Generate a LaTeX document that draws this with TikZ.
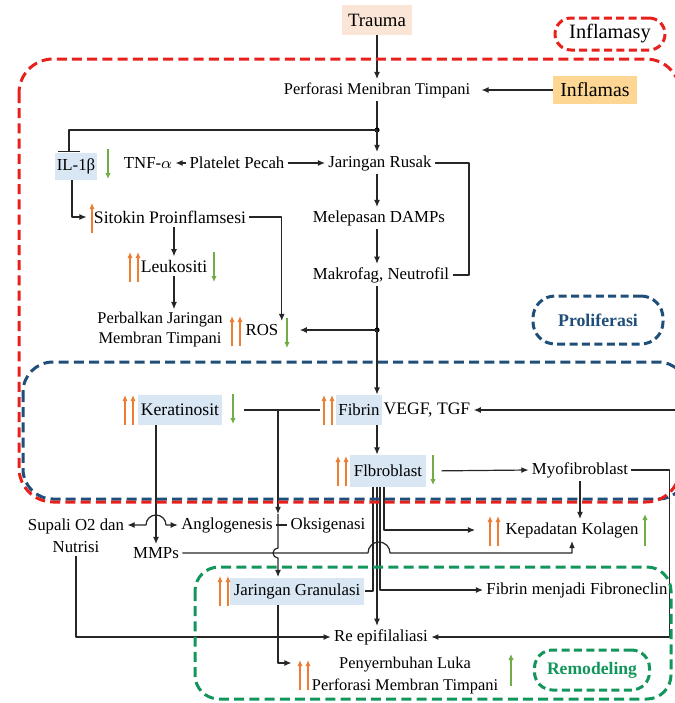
\documentclass[tikz,border=0pt]{standalone}
\usepackage{fontspec}
\setmainfont{Liberation Serif}
\usepackage{tikz}
\usetikzlibrary{arrows.meta}
\definecolor{inflred}{RGB}{232,32,28}
\definecolor{prolblue}{RGB}{31,78,121}
\definecolor{remgreen}{RGB}{18,150,92}
\definecolor{cellblue}{RGB}{217,231,245}
\definecolor{traumafill}{RGB}{251,229,214}
\definecolor{inflfill}{RGB}{252,214,146}
\definecolor{uporange}{RGB}{237,125,49}
\definecolor{downgreen}{RGB}{112,173,71}

\begin{document}
\begin{tikzpicture}[>={Latex[length=3.6pt,width=3pt]},line join=bevel,x=0.5pt,y=-0.5pt,
    txt/.style={align=center,inner sep=1.5pt,font=\fontsize{8.4}{10}\selectfont},
    big/.style={txt,font=\fontsize{8.8}{10}\selectfont},
    small/.style={font=\fontsize{8.2}{10}\selectfont},
    cell/.style={rectangle,fill=cellblue,inner xsep=1.5pt,minimum height=15pt},
    link/.style={color=black!85,line width=0.6pt},
    zone/.style={line width=1.5pt,dash pattern=on 5pt off 2.6pt},
    tag/.style={rectangle,draw,line width=1.5pt,dash pattern=on 4pt off 2.2pt,inner sep=2pt},
    oup/.pic={\draw[uporange,line width=0.8pt,-{Latex[length=3pt,width=2.6pt]}] (0,-7.5pt) -- (0,7.5pt);},
    upup/.pic={\draw[uporange,line width=0.8pt,-{Latex[length=3pt,width=2.6pt]}] (-2pt,-7.5pt) -- (-2pt,7.5pt);
               \draw[uporange,line width=0.8pt,-{Latex[length=3pt,width=2.6pt]}] (2pt,-7.5pt) -- (2pt,7.5pt);},
    gdown/.pic={\draw[downgreen,line width=0.8pt,-{Latex[length=3pt,width=2.8pt]}] (0,7.5pt) -- (0,-7.5pt);},
    gup/.pic={\draw[downgreen,line width=0.8pt,-{Latex[length=3pt,width=2.8pt]}] (0,-8pt) -- (0,8pt);}]
            \useasboundingbox (0,0) rectangle (675,703);
            %
            \node (trauma) at (377,20) [rectangle,fill=traumafill,inner xsep=3pt,minimum height=15pt,font=\fontsize{9.4}{11}\selectfont] {Trauma};
            \node (inflamasy) at (610,34) [tag,draw=inflred,rounded corners=8pt,minimum width=55pt,minimum height=16pt,font=\fontsize{10.2}{12}\selectfont] {Inflamasy};
            \node (perforasi) at (377,90) [txt,small] {Perforasi Menibran Timpani};
            \node (inflamas) at (595,90) [rectangle,fill=inflfill,inner xsep=3.5pt,minimum height=14pt,font=\fontsize{9.9}{11}\selectfont] {Inflamas};
            \coordinate (split) at (377,130);
            \node (rusak) at (380,163) [txt] {Jaringan Rusak};
            \node (platelet) at (237,163) [txt] {Platelet Pecah};
            \node (tnf) at (148,163) [txt] {TNF-$\alpha$};
            \node (il) at (76,166) [txt,cell,inner xsep=1pt,minimum height=13.5pt] {IL-1β};
            \node (sitokin) at (170,217) [big] {Sitokin Proinflamsesi};
            \node (damps) at (379,218) [txt] {Melepasan DAMPs};
            \node (leukositi) at (174,266) [big] {Leukositi};
            \node (makrofag) at (381,275) [txt] {Makrofag, Neutrofil};
            \node (perbaikan) at (160,330) [txt,small] {Perbalkan Jaringan\\Membran Timpani};
            \node (ros) at (262,330) [txt] {ROS};
            \coordinate (split2) at (377,330);
            \node (proliferasi) at (598,320) [tag,draw=prolblue,text=prolblue,rounded corners=11pt,minimum width=65pt,minimum height=24pt,font=\bfseries\fontsize{8.9}{10}\selectfont] {Proliferasi};
            %
            \node (keratinosit) at (180,410) [big,cell] {Keratinosit};
            \node (fibrin) at (359,410) [txt,cell,inner xsep=1pt] {Fibrin};
            \node (vegf) at (427,410) [big] {VEGF, TGF};
            \coordinate (kj) at (278,410);
            \coordinate (tgfin) at (676,410);
            \node (fibroblast) at (388,471) [txt,cell,inner xsep=2pt,minimum height=16pt] {Flbroblast};
            \node (myofibroblast) at (580,470) [txt] {Myofibroblast};
            \node (supali) at (76,536) [txt,font=\fontsize{8.4}{11}\selectfont] {Supali O2 dan\\Nutrisi};
            \node (angio) at (227,525) [txt] {Anglogenesis};
            \node (oksigenasi) at (328,525) [txt] {Oksigenasi};
            \node (kolagen) at (572,530) [txt] {Kepadatan Kolagen};
            \node (mmps) at (156,553) [txt] {MMPs};
            \node (granulasi) at (297,591) [txt,cell,inner xsep=2pt,minimum height=13.5pt] {Jaringan Granulasi};
            \node (fibronectin) at (577,590) [txt] {Fibrin menjadi Fibroneclin};
            \node (epitel) at (381,637) [txt] {Re epifilaliasi};
            \node (sembuh) at (405,676) [txt,small,font=\fontsize{8.2}{11}\selectfont] {Penyernbuhan Luka\\Perforasi Membran Timpani};
            \node (remodeling) at (592,670) [tag,draw=remgreen,text=remgreen,rounded corners=9pt,minimum width=57.5pt,minimum height=20pt,font=\bfseries\fontsize{8.8}{10}\selectfont] {Remodeling};
            %
            \coordinate (fl1) at (373,487);
            \coordinate (fl2) at (377,487);
            \coordinate (fl3) at (380,487);
            \coordinate (fl4) at (384,487);
            \coordinate (hopa) at (mmps.north |- angio.west);
            \coordinate (hopk) at (kj |- mmps.east);
            \coordinate (hopf) at (379,553);
            %
            \draw [link,->] (trauma) to (perforasi);
            \draw [link,->,shorten >=4pt] (inflamas) to (perforasi);
            \draw [link] (perforasi.south -| split) -- (split);
            \fill (split) circle (1.3pt);
            \draw [link,->] (split) -- (rusak.north -| split);
            \draw [link,-{Bar[width=11pt]}] (split) -| ([xshift=-3.5pt]il.north);
            \draw [link,->] (platelet) to (tnf);
            \draw [link,->] (platelet) to (rusak);
            \draw [link] (rusak.east) -- ++(34,0) |- (makrofag.east);
            \draw [link,->] (rusak.south -| split) -- (damps.north -| split);
            \draw [link,->] (damps.south -| split) -- (makrofag.north -| split);
            \draw [link] (makrofag.south -| split) -- (split2);
            \fill (split2) circle (1.3pt);
            \draw [link,->,shorten >=9pt] (split2) -- (ros.east);
            \draw [link,->] (split2) -- (fibrin.north -| split);
            \draw [link,->,shorten >=2pt] ([xshift=-2pt]il.south) |- (sitokin.west);
            \draw [link,->] (sitokin.east) -| (ros.north east);
            \draw [link,->] (sitokin.south -| leukositi.north) -- (leukositi.north);
            \draw [link,->] (leukositi.south) -- (leukositi.south |- perbaikan.north);
            %
            \draw [link,shorten <=10.5pt,shorten >=8pt] (keratinosit.east) -- (fibrin.west);
            \draw [link,->] (kj) -- (kj |- angio.north);
            \draw [link,->] (kj |- angio.north) -- ([yshift=2.5pt]hopk) arc[start angle=90,end angle=270,radius=2.5pt] -- (kj |- granulasi.north);
            \draw [link] (angio) -- (oksigenasi);
            \draw [link,<->] (angio.west -| supali.east) -- ([xshift=-5pt]hopa) arc[start angle=180,end angle=0,radius=5pt] -- (angio.west);
            \draw [link,->] (keratinosit.south -| mmps.north) -- (mmps.north);
            \draw [link,->] (mmps.east) -- ([xshift=-5.5pt]hopf) arc[start angle=180,end angle=0,radius=5.5pt] -- (kolagen.south |- mmps.east) -- (kolagen.south);
            \draw [link,->] (tgfin) -- (vegf.east);
            \draw [link,->] (fibrin.south -| split) -- (fibroblast.north -| split);
            \draw [link,->,shorten <=7.5pt] (fibroblast.east) -- (myofibroblast.west);
            \draw [link,->] (myofibroblast.south) -- (myofibroblast.south |- kolagen.north);
            \draw [link,->] (myofibroblast.east) -- ++(38,0) |- (epitel.east);
            \draw [link] (fibroblast.south -| fl1) |- (granulasi.east);
            \draw [link,->] (fibroblast.south -| fl2) -- (epitel.north -| fl2);
            \draw [link,->] (fibroblast.south -| fl3) |- (fibronectin.west);
            \draw [link,->,shorten >=13.5pt] (fibroblast.south -| fl4) |- (kolagen.west);
            \draw [link,->] (supali.south) |- (epitel.west);
            \draw [link,->,shorten >=8.5pt] (granulasi.south -| kj) |- ([yshift=6.5pt]sembuh.west);
            %
            \pic at (108,164) {gdown};
            \pic at (92,218) {oup};
            \pic at (134,267) {upup};
            \pic at (214,267) {gdown};
            \pic at (236,331) {upup};
            \pic at (287,333) {gdown};
            \pic at (129,410) {upup};
            \pic at (233,409) {gdown};
            \pic at (328,410) {upup};
            \pic at (342,471) {upup};
            \pic at (433,470) {gdown};
            \pic at (494,531) {upup};
            \pic at (645,530) {gup};
            \pic at (224,591) {upup};
            \pic at (304,675) {upup};
            \pic at (511,670) {gup};
            %
            \draw [zone,draw=prolblue,rounded corners=15pt] (23,362) rectangle (688,499);
            \draw [zone,draw=inflred,rounded corners=17pt] (19,59) rectangle (680,502);
            \draw [zone,draw=remgreen,rounded corners=12pt] (195,567) rectangle (671,699);
            %
        \end{tikzpicture}
\end{document}
